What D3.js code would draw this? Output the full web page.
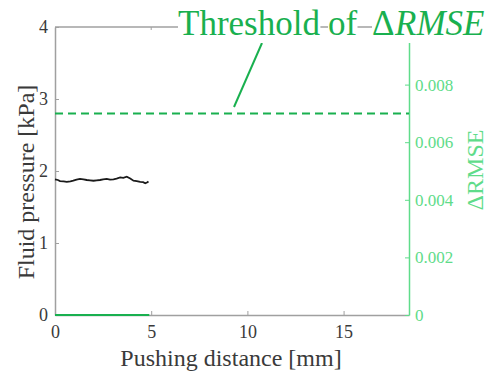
<!DOCTYPE html>
<html><head><meta charset="utf-8">
<script src="https://cdn.jsdelivr.net/npm/d3@7"></script>
<style>body{margin:0;background:#fff}svg{display:block}</style>
</head><body><svg id="c" width="497" height="378"></svg>
<script>
const distance = [0,0.15,0.26,0.45,0.61,0.8,0.95,1.12,1.30,1.48,1.65,1.82,2.0,2.17,2.34,2.5,2.69,2.86,3.04,3.2,3.39,3.55,3.73,3.91,4.08,4.25,4.43,4.58,4.69,4.78,4.86];
const pressure = [1.885,1.875,1.86,1.855,1.85,1.855,1.865,1.88,1.89,1.885,1.875,1.87,1.865,1.87,1.875,1.885,1.89,1.88,1.885,1.895,1.91,1.905,1.92,1.895,1.865,1.86,1.85,1.845,1.83,1.84,1.855];
const rmseDistance = [0,4.9];
const rmseValues = [0,0];
const threshold = 0.007;
const xTicks = [0,5,10,15];
const yTicks = [0,1,2,3,4];
const rTicks = [0,0.002,0.004,0.006,0.008];

const svg = d3.select("#c");
const L=55,R=409,T=27,B=315;
const x = d3.scaleLinear().domain([0,18.4]).range([L,R]);
const y = d3.scaleLinear().domain([0,4]).range([B,T]);
const yr = d3.scaleLinear().domain([0,0.01]).range([B,T]);
const gray="#a0a0a0", green="#19b04f", lgreen="#5fdc8a", txt="#3a3a3a";
const serif="Liberation Serif";

// top border with ticks
svg.append("line").attr("x1",L).attr("x2",R).attr("y1",T).attr("y2",T).attr("stroke",gray).attr("stroke-width",1.5);
xTicks.filter(d=>d>0).forEach(d=>svg.append("line").attr("x1",x(d)).attr("x2",x(d)).attr("y1",T).attr("y2",T+3).attr("stroke",gray));

// bottom axis
const gx = svg.append("g").attr("transform",`translate(0,${B})`).call(d3.axisBottom(x).tickValues(xTicks).tickFormat(d3.format("d")).tickSizeInner(-4).tickSizeOuter(0).tickPadding(10));
gx.attr("font-family",serif).attr("font-size",18);
gx.select(".domain").attr("stroke",gray).attr("stroke-width",1.5);
gx.selectAll(".tick line").attr("stroke",gray);
gx.selectAll("text").attr("fill",txt);

// left axis
const gy = svg.append("g").attr("transform",`translate(${L},0)`).call(d3.axisLeft(y).tickValues(yTicks).tickFormat(d3.format("d")).tickSizeInner(-4).tickSizeOuter(0).tickPadding(7));
gy.attr("font-family",serif).attr("font-size",18);
gy.select(".domain").attr("stroke",gray).attr("stroke-width",1.5);
gy.selectAll(".tick line").attr("stroke",gray);
gy.selectAll("text").attr("fill",txt);

// right axis
const gr = svg.append("g").attr("transform",`translate(${R},0)`).call(d3.axisRight(yr).tickValues(rTicks).tickFormat(d=>d===0?"0":d3.format(".3f")(d)).tickSizeInner(-4).tickSizeOuter(0).tickPadding(6));
gr.attr("font-family",serif).attr("font-size",17);
gr.select(".domain").attr("stroke",lgreen).attr("stroke-width",1.5);
gr.selectAll(".tick line").attr("stroke",lgreen);
gr.selectAll("text").attr("fill",lgreen);

// threshold dashed
svg.append("line").attr("x1",L).attr("x2",R).attr("y1",yr(threshold)).attr("y2",yr(threshold))
  .attr("stroke",green).attr("stroke-width",2).attr("stroke-dasharray","8,5");

// rmse line
svg.append("path").datum(rmseDistance.map((d,i)=>[d,rmseValues[i]]))
  .attr("d",d3.line().x(d=>x(d[0])).y(d=>yr(d[1]))).attr("stroke",green).attr("stroke-width",1.8).attr("fill","none");

// pressure line
svg.append("path").datum(distance.map((d,i)=>[d,pressure[i]]))
  .attr("d",d3.line().x(d=>x(d[0])).y(d=>y(d[1]))).attr("stroke","#1a1a1a").attr("stroke-width",1.8).attr("fill","none");

// axis titles
svg.append("text").attr("x",231).attr("y",366).attr("text-anchor","middle").attr("font-family",serif).attr("font-size",24).attr("fill",txt).text("Pushing distance [mm]");
svg.append("text").attr("transform","translate(34,182) rotate(-90)").attr("text-anchor","middle").attr("font-family",serif).attr("font-size",24).attr("fill",txt).text("Fluid pressure [kPa]");
svg.append("text").attr("transform","translate(483,170) rotate(-90)").attr("text-anchor","middle").attr("font-family",serif).attr("font-size",24).attr("fill",lgreen).text("ΔRMSE");

// pointer
svg.append("line").attr("x1",262).attr("y1",43).attr("x2",234).attr("y2",107).attr("stroke",green).attr("stroke-width",2);

// title words with white backgrounds
const words=[{t:"Threshold",x:178,it:false},{t:"of",x:328,it:false},{t:"Δ",x:372,it:false},{t:"RMSE",x:395,it:true}];
words.forEach(w=>{
  const g=svg.append("g");
  const te=g.append("text").attr("x",w.x).attr("y",35).attr("font-family",serif).attr("font-size",35).attr("fill",green).attr("font-style",w.it?"italic":"normal").text(w.t);
  const bb=te.node().getBBox();
  g.insert("rect","text").attr("x",bb.x).attr("y",bb.y).attr("width",bb.width).attr("height",bb.height).attr("fill","#fff");
});
</script></body></html>
